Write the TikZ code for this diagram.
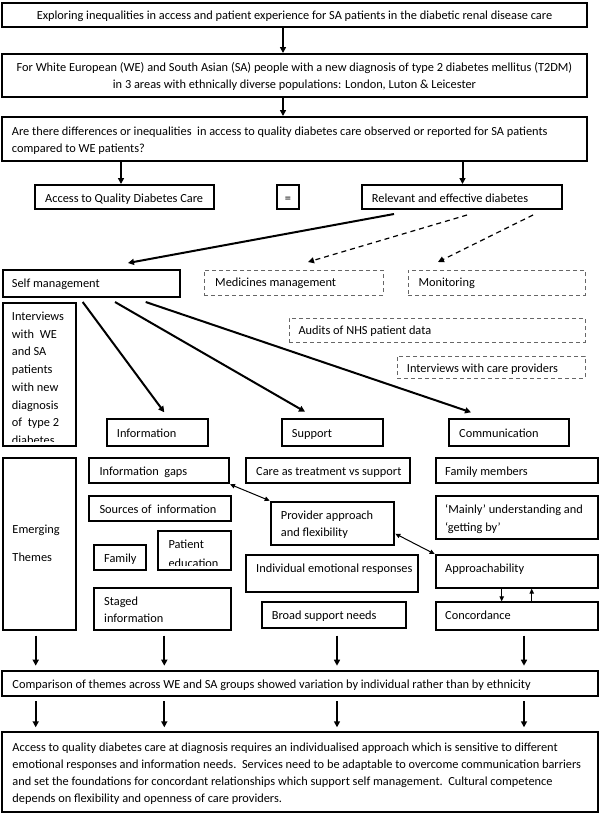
\documentclass[tikz,border=0pt]{standalone}
\usepackage{fontspec}
\setmainfont{Carlito}
\usetikzlibrary{arrows.meta,fit,calc}
\begin{document}
\begin{tikzpicture}[x=1pt,y=-1pt,
  sbox/.style={draw=black,line width=2pt,inner sep=0pt},
  dbox/.style={draw=black!60,line width=1pt,dash pattern=on 4pt off 3pt,inner sep=0pt},
  txt/.style={inner sep=0pt,anchor=base west,font=\fontsize{12.35}{14}\selectfont},
  ctxt/.style={txt,anchor=base},
  arr/.style={line width=2pt,-{Triangle[length=6pt,width=6pt]}},
  darr/.style={line width=1.2pt,dash pattern=on 5pt off 4pt,-{Triangle[length=6pt,width=6pt]}},
  tarr/.style={line width=1pt,{Triangle[length=5pt,width=4.5pt]}-{Triangle[length=5pt,width=4.5pt]}},
  sarr/.style={line width=1pt,-{Triangle[length=5pt,width=4.5pt]}}]
\useasboundingbox (0,0) rectangle (600,814);
\fill[white] (0,0) rectangle (600,814);

% ---- top boxes
\node[sbox, fit={(2,3)(587,27)}] (b1) {};
\node[ctxt] (t1) at (294.5,19.5) {Exploring inequalities in access and patient experience for SA patients in the diabetic renal disease care};
\node[sbox, fit={(2,54)(587,97)}] (b2) {};
\node[ctxt] (t2a) at (294.5,71.5) {For White European (WE) and South Asian (SA) people with a new diagnosis of type 2 diabetes mellitus (T2DM)};
\node[ctxt] (t2b) at (294.5,88.5) {in 3 areas with ethnically diverse populations: London, Luton \& Leicester};
\node[sbox, fit={(2,117)(587,161)}] (b3) {};
\node[txt] (t3a) at (11.7,135.5) {Are there differences or inequalities\ \ in access to quality diabetes care observed or reported for SA patients};
\node[txt] (t3b) at (11.7,152.5) {compared to WE patients?};

\draw[arr] (283,27) coordinate (a1s) -- (b2.north -| a1s);
\draw[arr] (b2.south -| a1s) -- (b3.north -| a1s);

% ---- access = relevant
\node[sbox, fit={(35,185)(214,209)}] (acc) {};
\node[txt] (tacc) at (45,202) {Access to Quality Diabetes Care};
\node[sbox, fit={(277,185)(299,209)}] (eq) {};
\node[ctxt] (teq) at (288,202) {=};
\node[sbox, fit={(362,185)(562,209)}] (rel) {};
\node[txt] (trel) at (371.7,202) {Relevant and effective diabetes};

\coordinate (a3x) at (121,0);
\coordinate (a4x) at (462.5,0);
\draw[arr] (b3.south -| a3x) -- (acc.north -| a3x);
\draw[arr] (b3.south -| a4x) -- (rel.north -| a4x);

% ---- self management etc.
\node[sbox, fit={(3,270)(180,297)}] (self) {};
\node[txt] (tself) at (11.7,287) {Self management};
\node[dbox, fit={(204,270)(383,295)}] (med) {};
\node[txt] (tmed) at (215,286.5) {Medicines management};
\node[dbox, fit={(408,270)(585,295)}] (mon) {};
\node[txt] (tmon) at (418.3,286.5) {Monitoring};

\coordinate (r1) at (394,214);
\coordinate (r2) at (467,215);
\coordinate (r3) at (533,215);
\coordinate (s1) at (128,263);
\coordinate (m1) at (308,262);
\coordinate (m2) at (438,262);
\draw[arr] (r1) -- (s1);
\draw[darr] (r2) -- (m1);
\draw[darr] (r3) -- (m2);

% ---- interviews column
\begin{scope}
\clip (3,303) rectangle (76,441.5);
\node[txt] (ti1) at (11.7,320.5) {Interviews};
\node[txt] (ti2) at (11.7,338.2) {with\ \ WE};
\node[txt] (ti3) at (11.7,355.9) {and SA};
\node[txt] (ti4) at (11.7,373.6) {patients};
\node[txt] (ti5) at (11.7,391.3) {with new};
\node[txt] (ti6) at (11.7,409.0) {diagnosis};
\node[txt] (ti7) at (11.7,426.7) {of\ \ type 2};
\node[txt] (ti8) at (11.7,444.5) {diabetes};
\end{scope}
\node[sbox, fit={(3,303)(76,446)}] (intv) {};

\node[dbox, fit={(289,318)(585,342)}] (aud) {};
\node[txt] (taud) at (298.3,334.5) {Audits of NHS patient data};
\node[dbox, fit={(397,356)(585,378)}] (icp) {};
\node[txt] (ticp) at (406.7,372) {Interviews with care providers};

\node[sbox, fit={(106.7,419)(207.7,445.7)}] (info) {};
\node[txt] (tinfo) at (116.7,437) {Information};
\node[sbox, fit={(282,419)(383,445.7)}] (sup) {};
\node[txt] (tsup) at (291.7,437) {Support};
\node[sbox, fit={(449,419)(569,445.7)}] (com) {};
\node[txt] (tcom) at (459,437) {Communication};

\coordinate (f1) at (82.7,302);
\coordinate (f2) at (115,302);
\coordinate (f3) at (145.7,302);
\coordinate (e1) at (164.3,412.3);
\coordinate (e2) at (305,411.7);
\coordinate (e3) at (471,412.3);
\draw[arr] (f1) -- (e1);
\draw[arr] (f2) -- (e2);
\draw[arr] (f3) -- (e3);

% ---- emerging themes
\node[sbox, fit={(2.7,458.3)(76,630)}] (emt) {};
\node[txt] (temt1) at (12.3,533) {Emerging};
\node[txt] (temt2) at (12.3,561) {Themes};

\node[sbox, fit={(89.3,458.3)(229,483.3)}] (gaps) {};
\node[txt] (tgaps) at (99.3,475.5) {Information\ \ gaps};
\node[sbox, fit={(89.3,496)(231,521)}] (src) {};
\node[txt] (tsrc) at (99.3,513) {Sources of\ \ information};
\node[sbox, fit={(94.3,545)(146,570)}] (fam) {};
\node[txt] (tfam) at (104,562) {Family};
\begin{scope}
\clip (158.3,531) rectangle (231,565);
\node[txt] (tpat1) at (168.3,548) {Patient};
\node[txt] (tpat2) at (168.3,567.5) {education};
\end{scope}
\node[sbox, fit={(158.3,531)(231,570)}] (pat) {};
\node[sbox, fit={(94.3,587.7)(231,630)}] (stg) {};
\node[txt] (tstg1) at (104,605) {Staged};
\node[txt] (tstg2) at (104,622) {information};

\node[sbox, fit={(246,458.3)(410,483.3)}] (care) {};
\node[txt] (tcare) at (256,475.5) {Care as treatment vs support};
\node[sbox, fit={(270.7,501.7)(394.3,545)}] (prov) {};
\node[txt] (tprov1) at (280.7,519) {Provider approach};
\node[txt] (tprov2) at (280.7,536.7) {and flexibility};
\node[sbox, fit={(246,555)(418,592.3)}] (ind) {};
\node[txt] (tind) at (256,572.3) {Individual emotional responses};
\node[sbox, fit={(262.3,602.3)(405.7,628.3)}] (brd) {};
\node[txt] (tbrd) at (271.7,619) {Broad support needs};

\node[sbox, fit={(435.7,458.3)(598,483.3)}] (fmem) {};
\node[txt] (tfmem) at (445,475.5) {Family members};
\node[sbox, fit={(435.7,496)(598,539)}] (mainly) {};
\node[txt] (tmain1) at (445,513.3) {‘Mainly’ understanding and};
\node[txt] (tmain2) at (445,531.3) {‘getting by’};
\node[sbox, fit={(435.7,555)(598,587.7)}] (appr) {};
\node[txt] (tappr) at (445,572.3) {Approachability};
\node[sbox, fit={(435.7,602.3)(598,630)}] (conc) {};
\node[txt] (tconc) at (445,619) {Concordance};

\draw[tarr] (gaps.south east) -- (prov.north west);
\draw[tarr] ($(prov.south east)+(0,-12.3)$) -- (appr.north west);
\coordinate (dn) at (501.7,0);
\coordinate (up) at (531.7,0);
\draw[sarr] (appr.south -| dn) -- (conc.north -| dn);
\draw[sarr] (conc.north -| up) -- (appr.south -| up);

% ---- comparison and conclusion
\node[sbox, fit={(1.7,670.7)(598,696.3)}] (cmp) {};
\node[txt] (tcmp) at (12.3,688.5) {Comparison of themes across WE and SA groups showed variation by individual rather than by ethnicity};
\node[sbox, fit={(1.7,732.3)(598,812.3)}] (fin) {};
\node[txt] (tf1) at (12.3,751) {Access to quality diabetes care at diagnosis requires an individualised approach which is sensitive to different};
\node[txt] (tf2) at (12.3,768.3) {emotional responses and information needs.\ \ Services need to be adaptable to overcome communication barriers};
\node[txt] (tf3) at (12.3,785.6) {and set the foundations for concordant relationships which support self management.\ \ Cultural competence};
\node[txt] (tf4) at (12.3,802.9) {depends on flexibility and openness of care providers.};

\foreach \xx [count=\i] in {35.7,164.3,337,524}{
  \coordinate (u\i) at (\xx,635.7);
  \coordinate (v\i) at (\xx,665.7);
  \coordinate (w\i) at (\xx,701.3);
  \coordinate (z\i) at (\xx,727.3);
  \draw[arr] (u\i) -- (v\i);
  \draw[arr] (w\i) -- (z\i);
}
\end{tikzpicture}
\end{document}
